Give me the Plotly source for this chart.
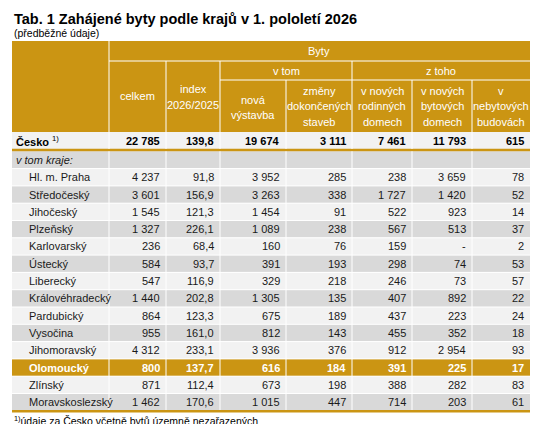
import plotly.graph_objects as go

# data
regions = ["Hl. m. Praha", "Středočeský", "Jihočeský", "Plzeňský", "Karlovarský",
           "Ústecký", "Liberecký", "Královéhradecký", "Pardubický", "Vysočina",
           "Jihomoravský", "Olomoucký", "Zlínský", "Moravskoslezský"]
celkem = ["4 237", "3 601", "1 545", "1 327", "236", "584", "547", "1 440", "864", "955", "4 312", "800", "871", "1 462"]
index_ = ["91,8", "156,9", "121,3", "226,1", "68,4", "93,7", "116,9", "202,8", "123,3", "161,0", "233,1", "137,7", "112,4", "170,6"]
nova = ["3 952", "3 263", "1 454", "1 089", "160", "391", "329", "1 305", "675", "812", "3 936", "616", "673", "1 015"]
zmeny = ["285", "338", "91", "238", "76", "193", "218", "135", "189", "143", "376", "184", "198", "447"]
rodinne = ["238", "1 727", "522", "567", "159", "298", "246", "407", "437", "455", "912", "391", "388", "714"]
bytove = ["3 659", "1 420", "923", "513", "-", "74", "73", "892", "223", "352", "2 954", "225", "282", "203"]
nebytove = ["78", "52", "14", "37", "2", "53", "57", "22", "24", "18", "93", "17", "83", "61"]
cesko = ["22 785", "139,8", "19 674", "3 111", "7 461", "11 793", "615"]
highlight = "Olomoucký"

GOLD = "#CB9513"
LIGHT = "#F2F2F2"
DARK = "#D9D9D9"
FONT = "Liberation Sans, Arial, sans-serif"

edges = [4, 101, 158, 212, 278, 344, 404, 464, 522]
shapes, ann = [], []


def rect(x0, y0, x1, y1, color):
    shapes.append(dict(type="rect", x0=x0, x1=x1, y0=y0, y1=y1, fillcolor=color,
                       line_width=0, layer="below"))


def line(x0, y0, x1, y1, color="white", w=1):
    shapes.append(dict(type="line", x0=x0, x1=x1, y0=y0, y1=y1, line=dict(color=color, width=w)))


def text(x, y, t, anchor="center", color="#1a1a1a", size=11):
    ann.append(dict(x=x, y=y, text=t, xanchor=anchor, yanchor="middle", showarrow=False,
                    font=dict(family=FONT, size=size, color=color)))


# title
text(4, 11, "<b>Tab. 1 Zahájené byty podle krajů v 1. pololetí 2026</b>", "left", "#000", 14.5)
text(4, 25, "(předběžné údaje)", "left", "#000", 10.5)

# header
rect(4, 33, 522, 124, GOLD)
line(101, 33, 101, 124)
line(101, 53, 522, 53)
line(212, 72, 522, 72)
for x in (158, 212, 344):
    line(x, 53, x, 124)
for x in (278, 404, 464):
    line(x, 72, x, 124)
W = "white"
text(311, 43, "Byty", color=W)
text(278, 62.5, "v tom", color=W)
text(433, 62.5, "z toho", color=W)
head = [["celkem"], ["index", "2026/2025"], ["nová", "výstavba"], ["změny", "dokončených", "staveb"],
        ["v nových", "rodinných", "domech"], ["v nových", "bytových", "domech"], ["v", "nebytových", "budovách"]]
head_y = [88, 89, 99.5, 98, 98, 98, 98]
for i, h in enumerate(head):
    cx = (edges[i + 1] + edges[i + 2]) / 2
    for k, part in enumerate(h):
        text(cx, head_y[i] + (k - (len(h) - 1) / 2) * 15.5, part, color=W)

# Česko row
rect(4, 124, 522, 141, LIGHT)
text(6, 132.5, "<b>Česko</b> <sup>1)</sup>", "left", "#000")
for i, v in enumerate(cesko):
    text(edges[i + 2] - 4, 132.5, f"<b>{v}</b>", "right", "#000")
line(4, 142, 522, 142, GOLD, 2.5)

# v tom kraje row
step = 17.3
y0 = 143.3
rect(4, y0, 522, y0 + step, DARK)
text(6, y0 + step / 2, "<i>v tom kraje:</i>", "left")

cols = [celkem, index_, nova, zmeny, rodinne, bytove, nebytove]
for r, name in enumerate(regions):
    top = y0 + step * (r + 1)
    mid = top + step / 2
    hl = name == highlight
    rect(4, top, 522, top + step, GOLD if hl else (LIGHT if r % 2 == 0 else DARK))
    col = "white" if hl else "#1a1a1a"
    fmt = (lambda s: f"<b>{s}</b>") if hl else (lambda s: s)
    text(19, mid, fmt(name), "left", col)
    for c, vals in enumerate(cols):
        text(edges[c + 2] - 4, mid, fmt(vals[r]), "right", col)
    line(4, top, 522, top, "white", 1)
bottom = y0 + step * (len(regions) + 1)
for x in edges[1:-1]:
    line(x, y0, x, bottom, "white", 1)
    line(x, 124, x, 141, "white", 1)
line(4, bottom + 0.5, 522, bottom + 0.5, GOLD, 2.5)

text(4, 412, "<sup>1)</sup>údaje za Česko včetně bytů územně nezařazených", "left", "#000", 10.5)

fig = go.Figure()
fig.update_layout(
    width=555, height=424, margin=dict(l=0, r=0, t=0, b=0),
    paper_bgcolor="white", plot_bgcolor="white",
    xaxis=dict(range=[0, 555], visible=False, fixedrange=True),
    yaxis=dict(range=[424, 0], visible=False, fixedrange=True),
    shapes=shapes, annotations=ann, showlegend=False,
)
fig.write_html("out.html")
